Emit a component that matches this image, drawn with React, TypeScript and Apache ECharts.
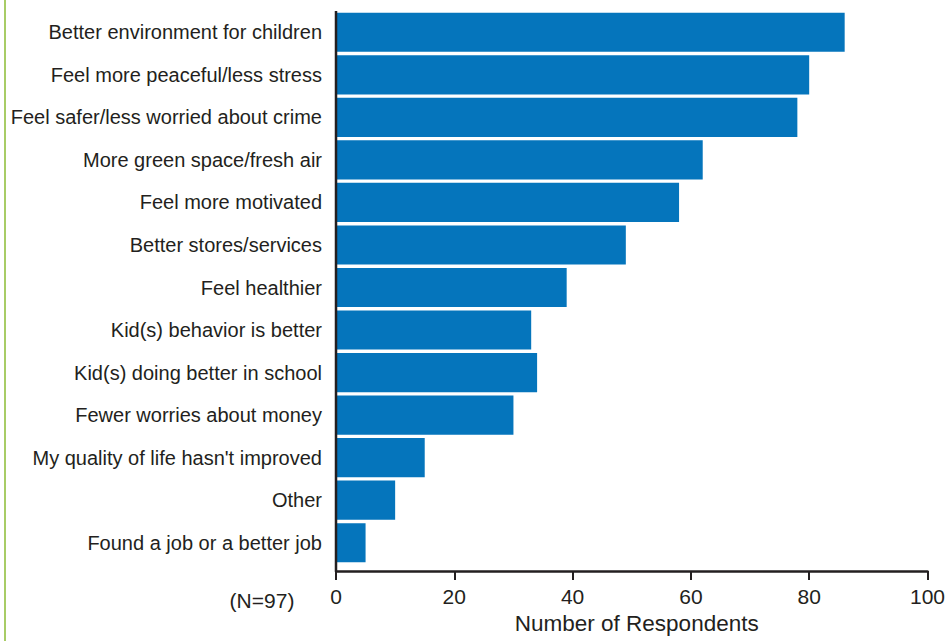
import React, { useEffect, useRef } from "react";
import * as echarts from "echarts";

const categories = [
  "Better environment for children",
  "Feel more peaceful/less stress",
  "Feel safer/less worried about crime",
  "More green space/fresh air",
  "Feel more motivated",
  "Better stores/services",
  "Feel healthier",
  "Kid(s) behavior is better",
  "Kid(s) doing better in school",
  "Fewer worries about money",
  "My quality of life hasn't improved",
  "Other",
  "Found a job or a better job",
];
const respondents = [86, 80, 78, 62, 58, 49, 39, 33, 34, 30, 15, 10, 5];
const xTicks = [0, 20, 40, 60, 80, 100];
const sampleNote = "(N=97)";
const xTitle = "Number of Respondents";

const FONT = "'Liberation Sans', Arial, Helvetica, sans-serif";
const TEXT = "#231f20";
const BAR = "#0575bc";

const GRID_LEFT = 336;
const GRID_RIGHT = 18;
const GRID_TOP = 11;
const GRID_HEIGHT = 553;
const AXIS_OFFSET = 7;

export default function App() {
  const ref = useRef<HTMLDivElement>(null);
  useEffect(() => {
    if (!ref.current) return;
    const chart = echarts.init(ref.current, null, { renderer: "svg" });
    const axisY = GRID_TOP + GRID_HEIGHT + AXIS_OFFSET;
    chart.setOption({
      animation: false,
      backgroundColor: "#ffffff",
      grid: {
        left: GRID_LEFT,
        right: GRID_RIGHT,
        top: GRID_TOP,
        height: GRID_HEIGHT,
        containLabel: false,
      },
      xAxis: {
        type: "value",
        min: xTicks[0],
        max: xTicks[xTicks.length - 1],
        interval: xTicks[1] - xTicks[0],
        offset: AXIS_OFFSET,
        splitLine: { show: false },
        axisLine: { show: true, lineStyle: { color: TEXT, width: 2.5 } },
        axisTick: { show: true, length: 9, lineStyle: { color: TEXT, width: 2 } },
        axisLabel: {
          color: TEXT,
          fontFamily: FONT,
          fontSize: 21,
          margin: 15,
        },
        name: xTitle,
        nameLocation: "middle",
        nameGap: 35,
        nameTextStyle: { color: TEXT, fontFamily: FONT, fontSize: 22.5, padding: [0, 0, 0, 10] },
      },
      yAxis: {
        type: "category",
        inverse: true,
        data: categories,
        axisLine: { show: false },
        axisTick: { show: false },
        axisLabel: {
          color: TEXT,
          fontFamily: FONT,
          fontSize: 20,
          margin: 14,
          padding: [0, 0, 6, 0],
        },
      },
      series: [
        {
          type: "bar",
          data: respondents,
          barCategoryGap: "8%",
          itemStyle: { color: BAR },
        },
      ],
      graphic: [
        {
          type: "line",
          shape: { x1: 5, y1: 0, x2: 5, y2: 641 },
          style: { stroke: "#a8cc66", lineWidth: 2 },
          z: 10,
        },
        {
          type: "line",
          shape: { x1: GRID_LEFT, y1: GRID_TOP, x2: GRID_LEFT, y2: axisY },
          style: { stroke: TEXT, lineWidth: 2.5 },
          z: 10,
        },
        {
          type: "text",
          x: 262,
          y: 600,
          style: {
            text: sampleNote,
            fill: TEXT,
            font: `21px ${FONT}`,
            textAlign: "center",
            textVerticalAlign: "middle",
          },
        },
      ],
    });
    return () => chart.dispose();
  }, []);
  return <div ref={ref} style={{ width: 948, height: 641, position: "absolute", left: 0, top: 0 }} />;
}
